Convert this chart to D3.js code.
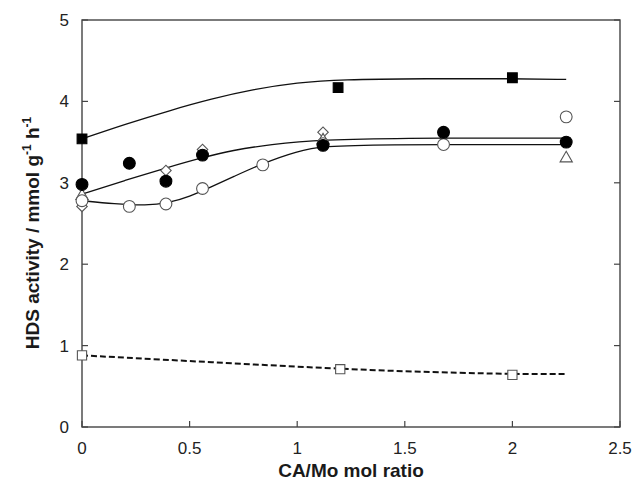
<!DOCTYPE html>
<head>
  <meta charset="utf-8">
  <script src="https://d3js.org/d3.v7.min.js"></script>
  <style>
  body { margin: 0; background: #fff; }
  text { font-family: "Liberation Sans", Arial, sans-serif; fill: #1a1a1a; }
  .axis-label { font-weight: bold; font-size: 19px; }
  .tick-label { font-size: 17px; fill: #222; }
  path.fit { fill: none; stroke: #111; stroke-width: 1.3px; }
  </style>
</head>
<body>
<svg width="638" height="485"></svg>

<script type="text/javascript">
// Measured points [CA/Mo, activity]
var filledSquare  = [[0, 3.54], [1.19, 4.17], [2.0, 4.29]];
var filledCircle  = [[0, 2.98], [0.22, 3.24], [0.39, 3.02], [0.56, 3.34], [1.12, 3.46], [1.68, 3.62], [2.25, 3.50]];
var openCircle    = [[0, 2.78], [0.22, 2.71], [0.39, 2.74], [0.56, 2.93], [0.84, 3.22], [1.12, 3.48], [1.68, 3.47], [2.25, 3.81]];
var openDiamond   = [[0, 2.71], [0.39, 3.15], [0.56, 3.41], [1.12, 3.62]];
var openTriangle  = [[0, 2.84], [1.12, 3.52], [2.25, 3.30]];
var openSquare    = [[0, 0.88], [1.2, 0.71], [2.0, 0.64]];

// Fitted curves
var fitSquare  = [[0, 3.54], [0.2, 3.72], [0.41, 3.89], [0.6, 4.03], [0.8, 4.15], [1.0, 4.23], [1.2, 4.27], [1.6, 4.28], [2.0, 4.28], [2.25, 4.27]];
var fitCircle  = [[0, 2.86], [0.2, 3.03], [0.4, 3.19], [0.56, 3.31], [0.7, 3.40], [0.87, 3.47], [1.12, 3.53], [1.5, 3.55], [2.0, 3.55], [2.27, 3.55]];
var fitOpen    = [[0, 2.78], [0.15, 2.74], [0.3, 2.72], [0.4, 2.75], [0.5, 2.83], [0.6, 2.95], [0.7, 3.07], [0.84, 3.24], [1.0, 3.39], [1.12, 3.45], [1.4, 3.47], [2.0, 3.47], [2.27, 3.47]];
var fitDashed  = [[0, 0.88], [0.5, 0.81], [1.0, 0.74], [1.5, 0.68], [2.0, 0.65], [2.25, 0.65]];

var xTicks = [0, 0.5, 1, 1.5, 2, 2.5];
var yTicks = [0, 1, 2, 3, 4, 5];

var margin = {left: 82, right: 18, top: 20, bottom: 58};
var svg = d3.select("svg");
var W = 638, H = 485;

var x = d3.scaleLinear().domain([0, 2.5]).range([margin.left, W - margin.right]);
var y = d3.scaleLinear().domain([0, 5]).range([H - margin.bottom, margin.top]);

// frame
svg.append("rect")
    .attr("x", x(0)).attr("y", y(5))
    .attr("width", x(2.5) - x(0)).attr("height", y(0) - y(5))
    .attr("fill", "none").attr("stroke", "#444").attr("stroke-width", 1.4);

// ticks pointing inward
var tickLen = 6;
svg.selectAll(".xt").data(xTicks).enter().append("line")
    .attr("x1", function(d) { return x(d); }).attr("x2", function(d) { return x(d); })
    .attr("y1", y(0)).attr("y2", y(0) - tickLen)
    .attr("stroke", "#444").attr("stroke-width", 1.2);
svg.selectAll(".yt").data(yTicks).enter().append("line")
    .attr("x1", x(0)).attr("x2", x(0) + tickLen)
    .attr("y1", function(d) { return y(d); }).attr("y2", function(d) { return y(d); })
    .attr("stroke", "#444").attr("stroke-width", 1.2);
svg.selectAll(".yt2").data(yTicks).enter().append("line")
    .attr("x1", x(2.5)).attr("x2", x(2.5) - tickLen)
    .attr("y1", function(d) { return y(d); }).attr("y2", function(d) { return y(d); })
    .attr("stroke", "#444").attr("stroke-width", 1.2);

svg.selectAll(".xl").data(xTicks).enter().append("text")
    .attr("class", "tick-label")
    .attr("x", function(d) { return x(d); }).attr("y", y(0) + 27)
    .attr("text-anchor", "middle")
    .text(function(d) { return d; });
svg.selectAll(".yl").data(yTicks).enter().append("text")
    .attr("class", "tick-label")
    .attr("x", x(0) - 13).attr("y", function(d) { return y(d) + 6; })
    .attr("text-anchor", "end")
    .text(function(d) { return d; });

// axis titles
svg.append("text").attr("class", "axis-label")
    .attr("x", (x(0) + x(2.5)) / 2).attr("y", 477)
    .attr("text-anchor", "middle")
    .text("CA/Mo mol ratio");

var yt = svg.append("text").attr("class", "axis-label")
    .attr("transform", "translate(39,233) rotate(-90)")
    .attr("text-anchor", "middle");
yt.append("tspan").text("HDS activity / mmol g");
yt.append("tspan").attr("dy", -8).attr("font-size", "12px").text("-1");
yt.append("tspan").attr("dy", 8).text(" h");
yt.append("tspan").attr("dy", -8).attr("font-size", "12px").text("-1");

// fitted curves
var line = d3.line()
    .x(function(d) { return x(d[0]); })
    .y(function(d) { return y(d[1]); })
    .curve(d3.curveBasis);

[fitSquare, fitCircle, fitOpen].forEach(function(f) {
  svg.append("path").attr("class", "fit").attr("d", line(f));
});
svg.append("path").attr("class", "fit")
    .attr("d", line(fitDashed))
    .style("stroke-width", "2px")
    .style("stroke-dasharray", "6,3");

// markers
function markers(data, type, size, filled, rot) {
  var sym = d3.symbol().type(type).size(size);
  svg.append("g").selectAll("path").data(data).enter().append("path")
      .attr("d", sym)
      .attr("transform", function(d) {
        return "translate(" + x(d[0]) + "," + y(d[1]) + ")" + (rot ? " rotate(" + rot + ")" : "");
      })
      .attr("fill", filled ? "#000" : "#fff")
      .attr("stroke", filled ? "#000" : "#555")
      .attr("stroke-width", 1.1);
}

markers(openDiamond, d3.symbolSquare, 55, false, 45);
markers(openTriangle, d3.symbolTriangle, 65, false);
markers(openCircle, d3.symbolCircle, 110, false);
markers(openSquare, d3.symbolSquare, 85, false);
markers(filledCircle, d3.symbolCircle, 110, true);
markers(filledSquare, d3.symbolSquare, 95, true);
</script>
</body>
</html>
